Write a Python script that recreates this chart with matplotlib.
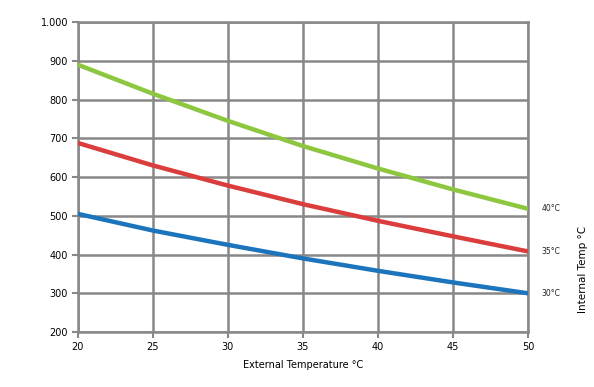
import matplotlib
matplotlib.use("Agg")
import matplotlib.pyplot as plt
from matplotlib.ticker import FuncFormatter

ext_temp = [20, 25, 30, 35, 40, 45, 50]
series_40 = [890, 815, 745, 680, 622, 568, 518]
series_35 = [688, 630, 578, 530, 487, 447, 408]
series_30 = [505, 462, 425, 390, 358, 328, 300]
series_labels = ["40°C", "35°C", "30°C"]
colors = ["#8DC63F", "#DB3D3D", "#1C75BC"]

fig = plt.figure(figsize=(5.94, 3.87), dpi=100)
ax = fig.add_axes([0.131, 0.142, 0.758, 0.801])

for vals, lab, c in zip([series_40, series_35, series_30], series_labels, colors):
    ax.plot(ext_temp, vals, color=c, lw=3.2, solid_capstyle="butt", zorder=3)
    ax.text(50 + 0.9, vals[-1], lab, fontsize=5.5, va="center", ha="left", color="#222222")

ax.set_xlim(20, 50)
ax.set_ylim(200, 1000)
ax.set_xticks(range(20, 51, 5))
ax.set_yticks(range(200, 1001, 100))
ax.yaxis.set_major_formatter(FuncFormatter(lambda v, p: f"{int(v):,}".replace(",", ".")))
ax.grid(True, color="#888888", lw=1.8, zorder=0)
for s in ax.spines.values():
    s.set_color("#888888")
    s.set_linewidth(1.8)
ax.tick_params(axis="both", labelsize=7, color="#888888", width=1.5, length=4, direction="out", pad=3)
ax.set_xlabel("External Temperature °C", fontsize=7, labelpad=6)
fig.text(0.982, 0.305, "Internal Temp °C", rotation=90, fontsize=7.5, va="center", ha="center")

fig.savefig("out.png", dpi=100)
